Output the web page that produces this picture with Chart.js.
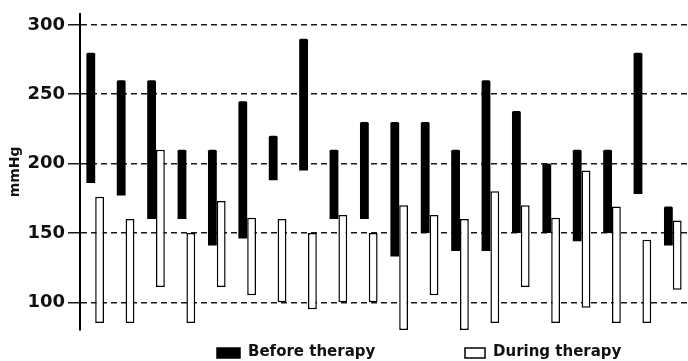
<!DOCTYPE html>
<html>
<head>
<meta charset="utf-8">
<script src="https://cdn.jsdelivr.net/npm/chart.js@4"></script>
<style>
  html, body { margin: 0; padding: 0; background: #fff; }
  #wrap { width: 688px; height: 361px; }
</style>
</head>
<body>
<div id="wrap"><canvas id="chart"></canvas></div>
<script>
const patients = ["1","2","3","4","5","6","7","8","9","10","11","12","13","14","15","16","17","18","19","20"];
const beforeLow  = [186, 177, 160, 160, 141, 146, 188, 195, 160, 160, 133, 150, 137, 137, 150, 150, 144, 150, 178, 141];
const beforeHigh = [280, 260, 260, 210, 210, 245, 220, 290, 210, 230, 230, 230, 210, 260, 238, 200, 210, 210, 280, 169];
const duringLow  = [85, 85, 111, 85, 111, 105, 100, 95, 100, 100, 80, 105, 80, 85, 111, 85, 96, 85, 85, 109];
const duringHigh = [176, 160, 210, 150, 173, 161, 160, 150, 163, 150, 170, 163, 160, 180, 170, 161, 195, 169, 145, 159];
const yTicks = [100, 150, 200, 250, 300];

const FONT = "'DejaVu Sans', sans-serif";

function ranges(lo, hi) {
  return lo.map((v, i) => [v, hi[i]]);
}

// legend drawn under the plot, shifted right like the original
const bottomLegend = {
  id: "bottomLegend",
  afterDraw(chart) {
    const ctx = chart.ctx;
    const y = chart.chartArea.bottom + 18;
    const spots = [[217, 23], [465, 20]];
    ctx.save();
    ctx.font = "bold 15px " + FONT;
    ctx.textBaseline = "middle";
    chart.data.datasets.forEach((ds, i) => {
      const [x, w] = spots[i];
      ctx.fillStyle = ds.backgroundColor;
      ctx.fillRect(x, y, w, 10);
      ctx.lineWidth = 1.5;
      ctx.strokeStyle = "#000";
      ctx.strokeRect(x, y, w, 10);
      ctx.fillStyle = "#111";
      ctx.fillText(ds.label, x + w + 8, y + 4);
    });
    ctx.restore();
  },
};

new Chart(document.getElementById("chart"), {
  type: "bar",
  data: {
    labels: patients,
    datasets: [
      {
        label: "Before therapy",
        data: ranges(beforeLow, beforeHigh),
        backgroundColor: "#000",
        borderWidth: 0,
        borderRadius: 1.5,
      },
      {
        label: "During therapy",
        data: ranges(duringLow, duringHigh),
        backgroundColor: "#fff",
        borderColor: "#000",
        borderWidth: 1.5,
        borderSkipped: false,
      },
    ],
  },
  options: {
    responsive: true,
    maintainAspectRatio: false,
    animation: false,
    datasets: { bar: { categoryPercentage: 0.58, barPercentage: 1 } },
    layout: { padding: { top: 12, bottom: 31, right: 0, left: 0 } },
    plugins: { legend: { display: false }, tooltip: { enabled: false } },
    scales: {
      x: { display: false },
      y: {
        min: 80,
        max: 308,
        z: 1,
        afterBuildTicks: (scale) => {
          scale.ticks = yTicks.map((v) => ({ value: v }));
        },
        afterFit: (scale) => {
          scale.width = 80;
        },
        ticks: {
          color: "#111",
          padding: 3,
          font: { family: FONT, size: 18, weight: "bold" },
        },
        grid: {
          color: "#1a1a1a",
          lineWidth: 1.5,
          tickLength: 12,
          tickBorderDash: [],
        },
        border: { display: true, color: "#000", width: 2, dash: [6, 4] },
        title: {
          display: true,
          text: "mmHg",
          color: "#111",
          padding: { top: 7 },
          font: { family: FONT, size: 14, weight: "bold" },
        },
      },
    },
  },
  plugins: [bottomLegend],
});
</script>
</body>
</html>
